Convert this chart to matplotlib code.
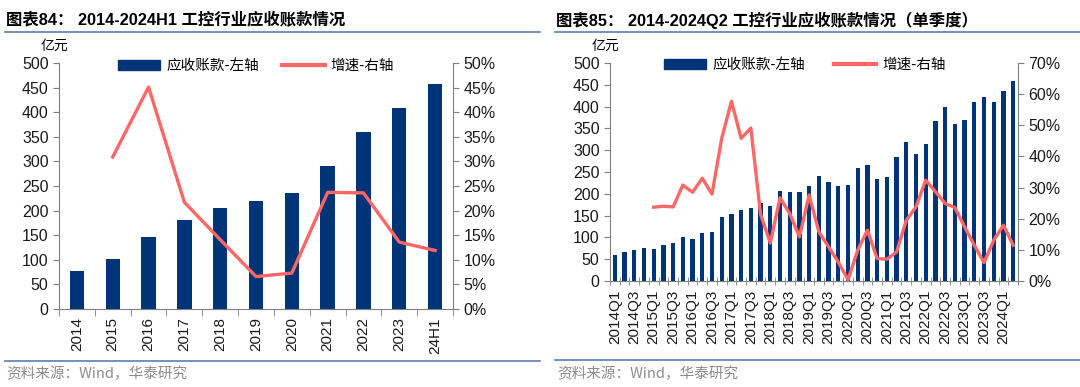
import matplotlib
matplotlib.use("Agg")
import matplotlib.pyplot as plt
from matplotlib.ticker import FuncFormatter, MultipleLocator
from matplotlib.lines import Line2D
from matplotlib.patches import Patch
import numpy as np

plt.rcParams['font.family'] = ['Liberation Sans', 'Noto Sans CJK SC', 'DejaVu Sans']

# ---- data: annual chart ----
years = ['2014', '2015', '2016', '2017', '2018', '2019', '2020', '2021', '2022', '2023', '24H1']
ar_annual = [77, 102, 147, 180, 205, 219, 235, 291, 360, 408, 458]
growth_annual = [np.nan, 30.9, 45.1, 21.7, 14.1, 6.6, 7.3, 23.7, 23.6, 13.6, 11.9]

# ---- data: quarterly chart ----
quarters = [f'{y}Q{q}' for y in range(2014, 2025) for q in (1, 2, 3, 4)][:42]
ar_quarter = [59, 67, 70, 76, 74, 83, 87, 100, 96, 110, 112, 146, 153, 163, 168, 179,
              172, 207, 204, 204, 219, 240, 228, 218, 221, 260, 265, 235, 238, 285,
              319, 291, 315, 367, 398, 360, 369, 410, 422, 410, 436, 458]
growth_quarter = [np.nan, np.nan, np.nan, np.nan, 23.7, 24.0, 23.8, 30.8, 28.5, 33.0,
                  27.9, 45.8, 57.7, 45.8, 49.1, 21.4, 12.2, 26.7, 21.7, 14.2, 27.6,
                  15.8, 11.0, 6.1, 0.4, 9.9, 16.3, 7.2, 7.0, 9.3, 19.5, 23.8, 32.4,
                  28.7, 24.9, 23.6, 17.4, 11.5, 5.9, 13.1, 17.9, 11.5]

BAR = '#003478'
LINE = '#FF6666'
SPINE = '#7F7F7F'
RULE = '#5B7DB1'
W, H = 1080, 387

fig = plt.figure(figsize=(W / 100, H / 100), dpi=100)


def px_axes(x0, y0, x1, y1):
    return fig.add_axes([x0 / W, (H - y1) / H, (x1 - x0) / W, (y1 - y0) / H])


def style(ax, ax2, ymax2, step2, n):
    ax.set_ylim(0, 500)
    ax.yaxis.set_major_locator(MultipleLocator(50))
    ax2.set_ylim(0, ymax2)
    ax2.yaxis.set_major_locator(MultipleLocator(step2))
    ax2.yaxis.set_major_formatter(FuncFormatter(lambda v, p: f'{v:.0f}%'))
    for a in (ax, ax2):
        a.spines['top'].set_visible(False)
        for s in a.spines.values():
            s.set_color(SPINE)
        a.tick_params(colors=SPINE, labelcolor='#1a1a1a', labelsize=11.5, length=4, width=0.8)
    ax.spines['right'].set_visible(False)
    ax2.spines['left'].set_visible(False)
    ax2.spines['bottom'].set_visible(False)
    ax.set_xlim(-0.5, n - 0.5)


def legend(a, x0, y, cs):
    a.legend([Patch(color=BAR), Line2D([0], [0], color=LINE, lw=3)],
             ['应收账款-左轴', '增速-右轴'], ncol=2, frameon=False,
             loc='center left', bbox_to_anchor=(x0, y),
             handlelength=2.9, handleheight=0.75, handletextpad=0.4, columnspacing=cs,
             borderaxespad=0, borderpad=0,
             prop={'family': ['Noto Sans CJK SC'], 'size': 10.5})


# ================= left chart =================
ax = px_axes(59, 63, 453, 309)
ax2 = ax.twinx()
x = np.arange(len(years))
ax.bar(x, ar_annual, width=0.4, color=BAR, zorder=2)
ax2.plot(x, growth_annual, color=LINE, lw=2.4, zorder=3)
style(ax, ax2, 50, 5, len(years))
ax.set_xticks(x)
ax.set_xticklabels(years, rotation=90, fontsize=11)
ax.tick_params(axis='x', length=0, pad=6)
ax.set_xticks(np.arange(-0.5, len(years)), minor=True)
ax.tick_params(axis='x', which='minor', length=5, direction='out', colors=SPINE)
legend(ax2, (118 - 59) / (453 - 59), 1 - (66 - 63) / (309 - 63), 1.6)

fig.text(41 / W, 1 - 46 / H, '亿元', fontsize=10, family=['Noto Sans CJK SC'], va='center')
fig.text(6 / W, 1 - 20 / H, '图表84： 2014-2024H1 工控行业应收账款情况', fontsize=11.8,
         fontweight='bold', va='center')
fig.add_artist(Line2D([5 / W, 540 / W], [1 - 32 / H] * 2, color=RULE, lw=1.2))
fig.add_artist(Line2D([5 / W, 540 / W], [1 - 361 / H] * 2, color=RULE, lw=1.2))
fig.text(6 / W, 1 - 374 / H, '资料来源：Wind，华泰研究', fontsize=10.5, color='#8C8C8C',
         va='center', family=['Noto Sans CJK SC'])

# ================= right chart =================
bx = px_axes(610, 63, 1018, 281)
bx2 = bx.twinx()
xq = np.arange(len(quarters))
bx.bar(xq, ar_quarter, width=0.45, color=BAR, zorder=2)
bx2.plot(xq, growth_quarter, color=LINE, lw=2.4, zorder=3)
style(bx, bx2, 70, 10, len(quarters))
bx.set_xticks(xq[::2])
bx.set_xticklabels(quarters[::2], rotation=90, fontsize=11)
bx.tick_params(axis='x', length=0, pad=6)
bx.set_xticks(np.arange(-0.5, len(quarters)), minor=True)
bx.tick_params(axis='x', which='minor', length=6, direction='inout', colors=SPINE)
legend(bx2, (664 - 610) / (1018 - 610), 1 - (65 - 63) / (281 - 63), 2.0)

fig.text(592 / W, 1 - 46 / H, '亿元', fontsize=10, family=['Noto Sans CJK SC'], va='center')
fig.text(556 / W, 1 - 20 / H, '图表85： 2014-2024Q2 工控行业应收账款情况（单季度）', fontsize=11.8,
         fontweight='bold', va='center')
fig.add_artist(Line2D([555 / W, 1080 / W], [1 - 32 / H] * 2, color=RULE, lw=1.2))
fig.add_artist(Line2D([555 / W, 1080 / W], [1 - 360 / H] * 2, color=RULE, lw=1.2))
fig.text(557 / W, 1 - 374 / H, '资料来源：Wind，华泰研究', fontsize=10.5, color='#8C8C8C',
         va='center', family=['Noto Sans CJK SC'])

fig.savefig('out.png', dpi=100)
